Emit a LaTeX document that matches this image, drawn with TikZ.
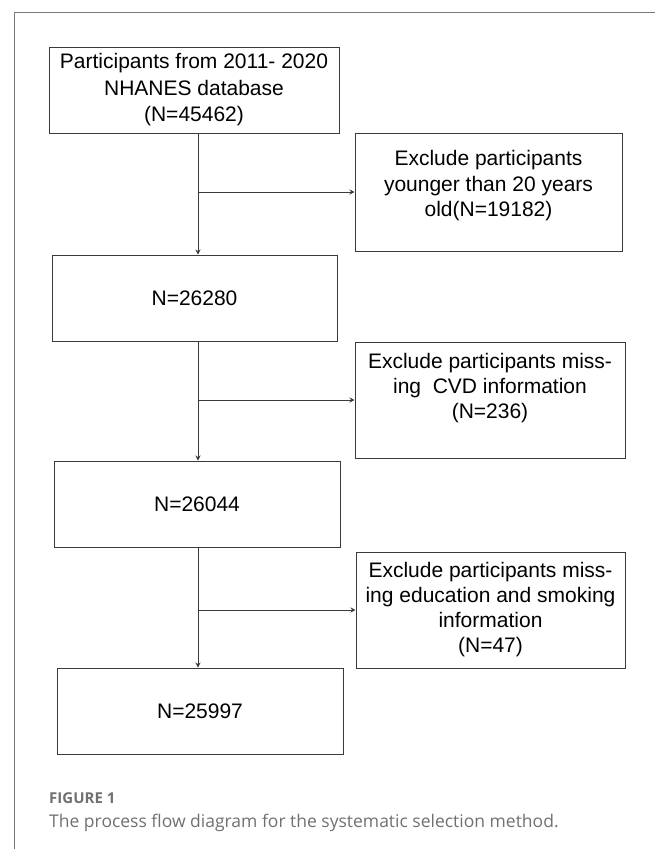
\documentclass[tikz,border=0pt]{standalone}
\usepackage{fontspec}
\setmainfont{Liberation Sans}
\newfontfamily\capfont{Open Sans}
\usepackage{xcolor}
\usepackage{tikz}
\usetikzlibrary{arrows.meta,calc,positioning}

\definecolor{boxline}{HTML}{3A3A3A}
\definecolor{framegray}{HTML}{7A7A7A}
\definecolor{capgray}{HTML}{707070}

\begin{document}
\begin{tikzpicture}[x=1pt, y=-1pt,
    stepbox/.style={draw=boxline, line width=1pt, align=center, inner sep=0pt,
      font=\fontsize{21}{25}\selectfont},
    flow/.style={draw=boxline, line width=1pt, -{Stealth[length=5pt,width=5pt]}}]

  \useasboundingbox (0,0) rectangle (655,849);

  % Frame
  \draw[framegray, line width=1pt] (655,12) -- (14,12) -- (14,849);

  % main column
  \node[stepbox, minimum width=290, minimum height=86, font=\fontsize{21}{26.5}\selectfont] (start) at (194,90)
    {Participants from 2011- 2020\\ NHANES database\\ (N=45462)};
  \node[stepbox, minimum width=285, minimum height=86] (n1) at (194.5,298) {N=26280};
  \node[stepbox, minimum width=286, minimum height=86] (n2) at (197,504) {N=26044};
  \node[stepbox, minimum width=286, minimum height=86] (n3) at (200,711) {N=25997};

  % exclusion boxes
  \node[stepbox, minimum width=267, minimum height=118] (ex1) at (488.5,192)
    {\raisebox{6pt}[\height][\depth]{\begin{tabular}{@{}c@{}}
      Exclude participants\\[0.5pt] younger than 20 years\\[0.5pt] old(N=19182)\end{tabular}}};
  \node[stepbox, minimum width=270, minimum height=116] (ex2) at (490,400)
    {\raisebox{12pt}[\height][\depth]{\begin{tabular}{@{}c@{}}
      Exclude participants miss-\\ ing~ CVD information\\ (N=236)\end{tabular}}};
  \node[stepbox, minimum width=269, minimum height=116] (ex3) at (490.5,610)
    {Exclude participants miss-\\ ing education and smoking\\ information\\ (N=47)};

  % spine
  \coordinate (spine) at (198,0);
  \draw[flow] (start.south -| spine) -- (n1.north -| spine);
  \draw[flow] (n1.south -| spine) -- (n2.north -| spine);
  \draw[flow] (n2.south -| spine) -- (n3.north -| spine);

  % side arrows
  \draw[flow] (ex1.west -| spine) -- (ex1.west);
  \draw[flow] (ex2.west -| spine) -- (ex2.west);
  \draw[flow] (ex3.west -| spine) -- (ex3.west);

  % caption
  \node[anchor=base west, inner sep=0pt, text=capgray, font=\capfont\bfseries\fontsize{15}{18}\selectfont]
    (figlabel) at (49,803) {FIGURE 1};
  \node[anchor=base west, inner sep=0pt, text=capgray, font=\capfont\fontsize{17.5}{21}\selectfont]
    (figtext) at (49,827) {The process flow diagram for the systematic selection method.};

\end{tikzpicture}
\end{document}
